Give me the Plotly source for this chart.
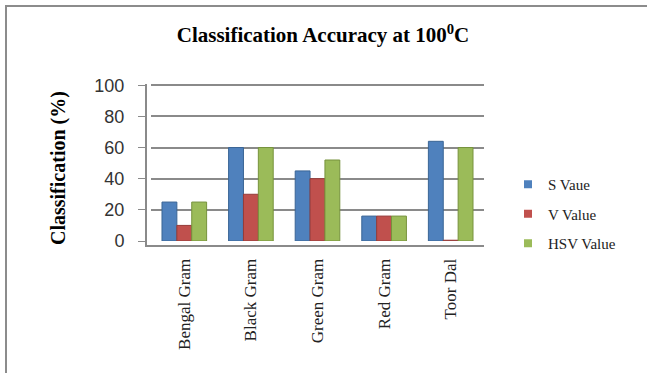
import plotly.graph_objects as go

categories = ["Bengal Gram", "Black Gram", "Green Gram", "Red Gram", "Toor Dal"]
s_value = [25, 60, 45, 16, 64]
v_value = [10, 30, 40, 16, 0.5]
hsv_value = [25, 60, 52, 16, 60]
series_names = ["S Vaue", "V Value", "HSV Value"]
colors = ["#4F81BD", "#C0504D", "#9BBB59"]
edge = ["#3A6595", "#953B39", "#76923C"]
y_ticks = [0, 20, 40, 60, 80, 100]

W, H = 647, 373
L, R, T, B = 151, 484, 84, 241

fig = go.Figure()
for i, (name, vals, c, e) in enumerate(zip(series_names, [s_value, v_value, hsv_value], colors, edge)):
    fig.add_trace(go.Bar(x=categories, y=vals, name=name, showlegend=False,
                         marker=dict(color=c, line=dict(color=e, width=1))))
for i, (name, c) in enumerate(zip(series_names, colors)):
    fig.add_trace(go.Scatter(x=[None], y=[None], mode="markers", name=name,
                             legendgroup=f"g{i}",
                             marker=dict(symbol="square", size=8, color=c)))

def px2paper_x(px):
    return (px - L) / (R - L)

def px2paper_y(py):
    return (B - py) / (B - T)

fig.update_layout(
    width=W, height=H,
    margin=dict(l=L, r=W - R, t=T, b=H - B, pad=4),
    paper_bgcolor="white", plot_bgcolor="white",
    barmode="group", bargap=0.33, bargroupgap=0.0,
    title=dict(text="<b>Classification Accuracy at 100<sup>0</sup>C</b>",
               x=(323) / W, xanchor="center", y=1 - 35 / H, yanchor="middle",
               font=dict(family="Liberation Serif", size=21, color="black")),
    legend=dict(x=px2paper_x(508), y=px2paper_y(168), xanchor="left", yanchor="top",
                font=dict(family="Liberation Serif", size=15, color="#222"),
                itemwidth=30, tracegroupgap=7, bgcolor="rgba(0,0,0,0)"),
    showlegend=True,
    font=dict(family="Liberation Serif"),
    annotations=[dict(text="<b>Classification (%)</b>", textangle=-90,
                      xref="paper", yref="paper",
                      x=px2paper_x(58), y=px2paper_y(168),
                      xanchor="center", yanchor="middle", showarrow=False,
                      font=dict(family="Liberation Serif", size=20, color="black"))],
)
fig.update_yaxes(range=[0, 100.8], tickvals=y_ticks, showgrid=True,
                 gridcolor="#8a8a8a", gridwidth=2,
                 showline=True, linecolor="#8a8a8a", linewidth=2,
                 ticks="outside", tickcolor="#8a8a8a", ticklen=7, tickwidth=1,
                 ticklabelstandoff=10,
                 tickfont=dict(family="Liberation Sans", size=18, color="#333"),
                 zeroline=False)
fig.update_xaxes(showline=True, linecolor="#8a8a8a", linewidth=2,
                 tickangle=-90, ticks="", ticklabelstandoff=5,
                 tickfont=dict(family="Liberation Serif", size=17, color="#222"))

fig.add_shape(type="rect", xref="paper", yref="paper",
              x0=px2paper_x(6), x1=px2paper_x(700),
              y0=px2paper_y(420), y1=px2paper_y(6),
              line=dict(color="#8c8c8c", width=2), fillcolor="rgba(0,0,0,0)", layer="above")

fig.write_html("out.html")
